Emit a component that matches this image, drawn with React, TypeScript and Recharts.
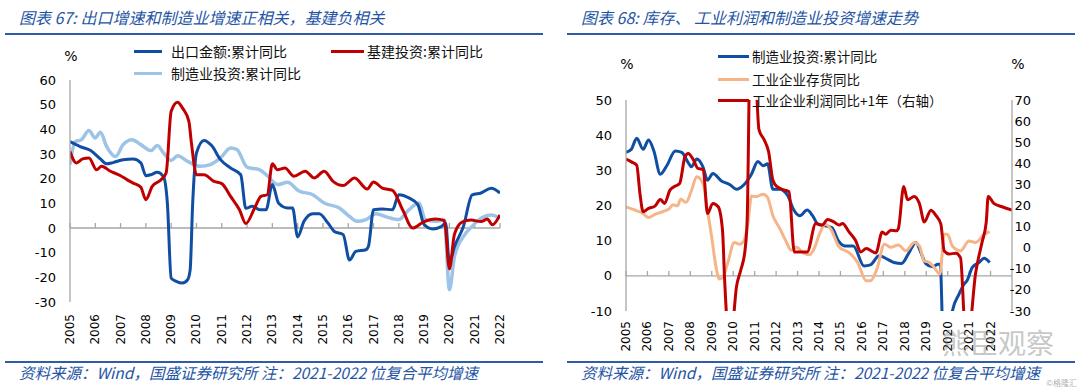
import { LineChart, Line, XAxis, YAxis, ReferenceLine } from "recharts";

// 图表67 — [year, %]
const exportPts: [number, number][] = [
  [2005.0, 35], [2005.4, 33], [2005.8, 31.5], [2006.2, 28], [2006.45, 26], [2006.7, 26.5],
  [2007.1, 27.7], [2007.5, 28], [2007.8, 26.4], [2008.0, 21.2], [2008.2, 21.6], [2008.45, 22.6],
  [2008.7, 20.7], [2008.85, 10], [2009.0, -20.3], [2009.2, -21.6], [2009.45, -22.3], [2009.65, -21],
  [2009.75, -17], [2009.85, 10], [2010.0, 30.4], [2010.3, 35.5], [2010.6, 33.4], [2010.95, 27.7],
  [2011.35, 24.3], [2011.75, 21.6], [2011.95, 8], [2012.2, 8.8], [2012.5, 7.4], [2012.75, 7.4],
  [2013.0, 17.6], [2013.25, 10], [2013.6, 8.1], [2013.8, 8.1], [2014.0, -3.6], [2014.25, 2.7],
  [2014.6, 5.8], [2014.85, 5.8], [2015.2, 2], [2015.45, -1.4], [2015.8, -2.7], [2016.05, -13],
  [2016.3, -9.5], [2016.7, -8.8], [2016.8, -7.4], [2017.0, 7.4], [2017.35, 7.7], [2017.75, 7.4],
  [2018.0, 13.5], [2018.4, 12.2], [2018.75, 9.5], [2019.0, 1.4], [2019.35, -0.4], [2019.7, 0.7],
  [2019.85, 2], [2020.0, -14], [2020.2, -7.6], [2020.55, 0.5], [2020.9, 13.4], [2021.25, 14.2],
  [2021.65, 16.1], [2022.0, 14.2],
];

const infraPts: [number, number][] = [
  [2005.0, 31], [2005.25, 26.4], [2005.5, 28], [2005.75, 28.4], [2006.05, 23.6], [2006.25, 25],
  [2006.6, 23], [2007.0, 21.2], [2007.25, 19.6], [2007.5, 18.2], [2007.8, 16.5], [2008.0, 11.5],
  [2008.25, 16.9], [2008.6, 19.6], [2008.8, 22.3], [2009.0, 47.3], [2009.25, 51], [2009.45, 48.6],
  [2009.7, 43.2], [2009.8, 34.5], [2010.0, 21.6], [2010.3, 21.6], [2010.7, 18.9], [2011.0, 18],
  [2011.35, 12.8], [2011.7, 7.4], [2011.95, 1.8], [2012.3, 8.1], [2012.55, 12.8], [2012.8, 13.5],
  [2013.0, 26], [2013.2, 23.6], [2013.5, 24.3], [2013.85, 21], [2014.3, 23], [2014.65, 20.3],
  [2015.05, 23], [2015.4, 18.9], [2015.8, 17.2], [2016.25, 20.3], [2016.75, 15.8], [2017.0, 18.6],
  [2017.35, 16.2], [2017.75, 15.3], [2018.15, 7.4], [2018.55, 0], [2018.95, 2.3], [2019.45, 3.6],
  [2019.8, 3], [2020.0, -16.6], [2020.2, -2.5], [2020.5, 2.4], [2020.85, 3.2], [2021.25, 2.6],
  [2021.5, 3.6], [2021.7, 1.3], [2022.0, 5.3],
];

const mfgPts: [number, number][] = [
  [2005.0, 25.7], [2005.2, 35], [2005.45, 35.8], [2005.75, 39.5], [2006.0, 36.5], [2006.2, 38.8],
  [2006.45, 33], [2006.8, 29], [2007.1, 33.8], [2007.45, 35.8], [2007.8, 33.8], [2008.2, 31.4],
  [2008.45, 33.4], [2008.7, 30.4], [2009.0, 27.4], [2009.25, 29.3], [2009.65, 27], [2010.15, 25],
  [2010.55, 25.7], [2010.95, 28.4], [2011.35, 32.4], [2011.6, 31.8], [2012.0, 24.7], [2012.5, 23.6],
  [2012.8, 21.2], [2013.2, 17.6], [2013.6, 18.5], [2014.05, 15], [2014.6, 13.5], [2015.05, 10.1],
  [2015.65, 8.1], [2016.05, 4.7], [2016.35, 2.7], [2016.7, 3.4], [2017.1, 5.8], [2017.5, 4.5],
  [2018.0, 3.4], [2018.4, 7.4], [2018.8, 10.1], [2019.05, 3.4], [2019.45, 2.7], [2019.8, 3.2],
  [2020.0, -25], [2020.2, -11.6], [2020.6, -2.8], [2020.9, 0.7], [2021.25, 4], [2021.65, 5.3],
  [2022.0, 4],
];

// 图表68
const mfgInvPts: [number, number][] = [
  [2005.0, 35.1], [2005.25, 36], [2005.5, 39.1], [2005.8, 36], [2006.05, 38.6], [2006.3, 35.5],
  [2006.6, 28.9], [2006.9, 31.3], [2007.3, 35.5], [2007.6, 35.1], [2007.9, 32.2], [2008.05, 31],
  [2008.3, 33.2], [2008.6, 30.8], [2008.8, 27.2], [2009.05, 29.1], [2009.45, 27], [2009.85, 25.9],
  [2010.15, 24.6], [2010.5, 25.9], [2010.85, 28.9], [2011.15, 32.5], [2011.4, 31.3], [2011.6, 31.9],
  [2011.85, 24.6], [2012.15, 24.6], [2012.55, 22.7], [2012.8, 19], [2013.1, 17.1], [2013.45, 18.7],
  [2013.7, 17.1], [2013.95, 14.7], [2014.3, 14.2], [2014.6, 13.7], [2014.9, 10], [2015.2, 8.5],
  [2015.6, 8.5], [2016.1, 2.8], [2016.4, 3.1], [2016.8, 5.7], [2017.2, 4.7], [2017.5, 3.8],
  [2017.85, 3.5], [2018.2, 6.6], [2018.52, 9.5], [2018.75, 6.6], [2018.98, 3.5], [2019.3, 2.6],
  [2019.55, 3.3], [2019.65, 3.3], [2019.85, -31], [2020.05, -22], [2020.22, -10], [2020.53, -5.2],
  [2020.76, -2.4], [2020.9, -1.4], [2021.15, 2.4], [2021.46, 3.8], [2021.7, 5], [2021.96, 3.8],
];

const inventoryPts: [number, number][] = [
  [2005.0, 19.6], [2005.5, 18.5], [2005.8, 17.7], [2006.05, 16.6], [2006.35, 17.5], [2006.75, 18.3],
  [2007.0, 19], [2007.2, 20.2], [2007.4, 19.9], [2007.55, 21.8], [2007.8, 20.9], [2008.05, 24.2],
  [2008.3, 28.2], [2008.6, 26.1], [2008.8, 18.5], [2009.0, 10.9], [2009.2, 2.4], [2009.35, -0.9],
  [2009.5, -0.5], [2009.75, 3.8], [2010.05, 9.5], [2010.3, 9], [2010.5, 10], [2010.7, 15.6],
  [2010.85, 22.7], [2011.05, 22.5], [2011.4, 23.2], [2011.6, 22.3], [2011.85, 17.1], [2012.15, 13.7],
  [2012.45, 10], [2012.7, 7.3], [2012.95, 8.1], [2013.25, 6.6], [2013.55, 6], [2013.8, 8.1],
  [2014.0, 11.6], [2014.3, 14.7], [2014.55, 13.3], [2014.95, 8.1], [2015.4, 6.6], [2015.8, 3.8],
  [2016.2, -1.4], [2016.4, -1.4], [2016.7, 1.9], [2017.05, 9], [2017.35, 8.1], [2017.7, 8.8],
  [2018.05, 7.1], [2018.45, 9.5], [2018.68, 8.5], [2018.9, 4.3], [2019.14, 3.8], [2019.37, 2.4],
  [2019.64, 0.5], [2019.84, 11.8], [2019.99, 11.8], [2020.22, 8.5], [2020.6, 7.1], [2020.99, 9.9],
  [2021.3, 9.5], [2021.7, 11.8], [2021.96, 12.6],
];

const profitPts: [number, number][] = [
  [2005.0, 42], [2005.25, 40.7], [2005.5, 39.1], [2005.65, 25.7], [2005.8, 17], [2006.05, 18.6],
  [2006.35, 19.7], [2006.6, 22.8], [2006.8, 21], [2007.05, 27.3], [2007.3, 29.2], [2007.5, 30.4],
  [2007.75, 43.1], [2007.9, 44.7], [2008.15, 41.5], [2008.35, 37.6], [2008.6, 37.1], [2008.8, 16.2],
  [2009.05, 21], [2009.3, 19.4], [2009.5, 8.3], [2009.6, -15.4], [2009.75, -37], [2009.95, -37],
  [2010.15, -18.6], [2010.35, -10.7], [2010.55, -1.2], [2010.65, 13], [2010.8, 100], [2010.95, 100],
  [2011.2, 56], [2011.45, 51], [2011.65, 45.5], [2011.85, 32], [2012.05, 28.9], [2012.4, 27.3],
  [2012.6, 26.5], [2012.85, -2], [2013.1, -2], [2013.45, -2], [2013.85, 11.5], [2014.15, 10.7],
  [2014.4, 13.4], [2014.7, 12.2], [2014.94, 10.7], [2015.1, 11.5], [2015.4, 7.5], [2015.7, 3.5],
  [2015.95, -2], [2016.2, -0.4], [2016.65, -2.5], [2016.95, 7.5], [2017.1, 6.4], [2017.35, 8.3],
  [2017.6, 8], [2017.7, 9], [2017.95, 29], [2018.13, 22.7], [2018.44, 24.3], [2018.68, 21],
  [2018.91, 12.2], [2019.22, 17.8], [2019.45, 15.3], [2019.68, 11.3], [2019.84, -1.6], [2020.07, -3],
  [2020.38, -2.6], [2020.6, -4.8], [2020.82, -38], [2021.0, -38], [2021.3, -12.2], [2021.6, 2.4],
  [2021.8, 12.2], [2021.89, 24.3], [2022.15, 21], [2022.54, 19.4], [2023.0, 17.8],
];

const YEARS = [2005, 2006, 2007, 2008, 2009, 2010, 2011, 2012, 2013, 2014, 2015, 2016, 2017, 2018, 2019, 2020, 2021, 2022];
const L_TICKS = [-30, -20, -10, 0, 10, 20, 30, 40, 50, 60];
const R_LEFT_TICKS = [-10, 0, 10, 20, 30, 40, 50];
const R_RIGHT_TICKS = [-30, -20, -10, 0, 10, 20, 30, 40, 50, 60, 70];

const DARK_BLUE = "#0f4ea3";
const RED = "#c00000";
const LIGHT_BLUE = "#9dc3e6";
const ORANGE = "#f6b489";
const AXIS = "#a6a6a6";
const TITLE_BLUE = "#2454a4";
const NUM_FONT = "'DejaVu Sans', Verdana, sans-serif";
const CJK_FONT = "'Noto Sans CJK SC', sans-serif";

const rows = (pts: [number, number][]) => pts.map(([x, y]) => ({ x, y }));

const YearTick = ({ x, y, payload }: any) => (
  <text x={x} y={y} transform={`rotate(-90 ${x} ${y})`} textAnchor="end" dominantBaseline="central"
    fontSize={12} fontFamily={NUM_FONT} fill="#000">
    {payload.value}
  </text>
);

const RightTick = ({ x, y, payload }: any) => (
  <text x={x + 19} y={y} textAnchor="end" dominantBaseline="central" fontSize={13} fontFamily={NUM_FONT} fill="#000">
    {payload.value}
  </text>
);

const LeftTick = ({ x, y, payload }: any) => (
  <text x={x} y={y} textAnchor="end" dominantBaseline="central" fontSize={13} fontFamily={NUM_FONT} fill="#000">
    {payload.value}
  </text>
);

function Swatch({ left, top, width, color }: { left: number; top: number; width: number; color: string }) {
  return <div style={{ position: "absolute", left, top: top - 1.5, width, height: 3, background: color }} />;
}

function Label({ left, top, size, children }: { left: number; top: number; size: number; children: string }) {
  return (
    <div style={{ position: "absolute", left, top: top - 10, lineHeight: "20px", fontSize: size, fontFamily: CJK_FONT, color: "#111", whiteSpace: "nowrap" }}>
      {children}
    </div>
  );
}

function Pct({ left, top }: { left: number; top: number }) {
  return (
    <div style={{ position: "absolute", left: left - 10, top: top - 10, width: 20, textAlign: "center", lineHeight: "20px", fontSize: 14, fontFamily: NUM_FONT, color: "#000" }}>
      %
    </div>
  );
}

const titleStyle = { position: "absolute" as const, top: 8, lineHeight: "18px", fontSize: 16, fontStyle: "italic", fontFamily: CJK_FONT, color: TITLE_BLUE, whiteSpace: "nowrap" as const };
const noteStyle = { ...titleStyle, top: 364, lineHeight: "16px", fontSize: 15.5 };
const rule = (left: number, top: number, width: number) => (
  <div style={{ position: "absolute", left, top, width, height: 2, background: "#2e5ca8" }} />
);

export default function App() {
  return (
    <div style={{ position: "relative", width: 1080, height: 390, background: "#fff", overflow: "hidden" }}>
      <style>{"body{margin:0}"}</style>

      <div style={{ ...titleStyle, left: 19 }}>图表 67:  出口增速和制造业增速正相关，基建负相关</div>
      <div style={{ ...titleStyle, left: 581 }}>图表 68:  库存、 工业利润和制造业投资增速走势</div>
      {rule(5, 33, 538)}
      {rule(567, 33, 508)}
      {rule(5, 361, 538)}
      {rule(567, 361, 508)}
      <div style={{ ...noteStyle, left: 19 }}>资料来源：Wind，国盛证券研究所 注：2021-2022 位复合平均增速</div>
      <div style={{ ...noteStyle, left: 581 }}>资料来源：Wind，国盛证券研究所 注：2021-2022 位复合平均增速</div>

      <div style={{ position: "absolute", left: 0, top: 0 }}>
        <LineChart width={540} height={390} margin={{ top: 80, right: 40, bottom: 38, left: 0 }}>
          <XAxis dataKey="x" type="number" domain={[2005, 2022]} ticks={YEARS} interval={0} allowDataOverflow
            axisLine={false} tickLine={false} tickSize={0} tickMargin={12} height={50} tick={<YearTick />} />
          <YAxis type="number" domain={[-30, 60]} ticks={L_TICKS} interval={0} allowDataOverflow width={70}
            axisLine={{ stroke: AXIS, strokeWidth: 1.3 }} tickLine={false} tickSize={0} tickMargin={14} tick={<LeftTick />} />
          <ReferenceLine y={0} stroke={AXIS} strokeWidth={1.3} />
          {YEARS.map((yr) => (
            <ReferenceLine key={yr} segment={[{ x: yr, y: 0 }, { x: yr, y: 2 }]} stroke={AXIS} strokeWidth={1.3} />
          ))}
          <Line data={rows(mfgPts)} dataKey="y" type="monotone" stroke={LIGHT_BLUE} strokeWidth={3.5} dot={false} isAnimationActive={false} />
          <Line data={rows(exportPts)} dataKey="y" type="monotone" stroke={DARK_BLUE} strokeWidth={3} dot={false} isAnimationActive={false} />
          <Line data={rows(infraPts)} dataKey="y" type="monotone" stroke={RED} strokeWidth={3} dot={false} isAnimationActive={false} />
        </LineChart>
      </div>

      <div style={{ position: "absolute", left: 540, top: 0 }}>
        <LineChart width={540} height={390} margin={{ top: 100, right: 18, bottom: 29, left: 0 }}>
          <XAxis dataKey="x" type="number" domain={[2005, 2023]} ticks={YEARS} interval={0} allowDataOverflow
            axisLine={false} tickLine={false} tickSize={0} tickMargin={10} height={50} tick={<YearTick />} />
          <YAxis yAxisId="left" type="number" domain={[-10, 50]} ticks={R_LEFT_TICKS} interval={0} allowDataOverflow width={86}
            axisLine={{ stroke: AXIS, strokeWidth: 1.3 }} tickLine={false} tickSize={0} tickMargin={14} tick={<LeftTick />} />
          <YAxis yAxisId="right" orientation="right" type="number" domain={[-30, 70]} ticks={R_RIGHT_TICKS} interval={0} allowDataOverflow width={50}
            axisLine={{ stroke: AXIS, strokeWidth: 1.3 }} tickLine={false} tickSize={0} tickMargin={0} tick={<RightTick />} />
          <ReferenceLine yAxisId="left" y={0} stroke={AXIS} strokeWidth={1.3} />
          {YEARS.map((yr) => (
            <ReferenceLine key={yr} yAxisId="left" segment={[{ x: yr, y: 0 }, { x: yr, y: 1.4 }]} stroke={AXIS} strokeWidth={1.3} />
          ))}
          <Line yAxisId="left" data={rows(mfgInvPts)} dataKey="y" type="monotone" stroke={DARK_BLUE} strokeWidth={3} dot={false} isAnimationActive={false} />
          <Line yAxisId="left" data={rows(inventoryPts)} dataKey="y" type="monotone" stroke={ORANGE} strokeWidth={3} dot={false} isAnimationActive={false} />
          <Line yAxisId="right" data={rows(profitPts)} dataKey="y" type="monotone" stroke={RED} strokeWidth={3} dot={false} isAnimationActive={false} />
        </LineChart>
      </div>

      <Pct left={71} top={56} />
      <Swatch left={134} top={51} width={28} color={DARK_BLUE} />
      <Label left={171} top={51} size={14}>出口金额:累计同比</Label>
      <Swatch left={331} top={51} width={33} color={RED} />
      <Label left={367} top={51} size={14}>基建投资:累计同比</Label>
      <Swatch left={134} top={73} width={28} color={LIGHT_BLUE} />
      <Label left={171} top={73} size={14}>制造业投资:累计同比</Label>

      <Pct left={627} top={64} />
      <Pct left={1018} top={64} />
      <Swatch left={718} top={56} width={31} color={DARK_BLUE} />
      <Label left={752} top={56} size={13.5}>制造业投资:累计同比</Label>
      <Swatch left={718} top={79} width={31} color={ORANGE} />
      <Label left={752} top={79} size={13.5}>工业企业存货同比</Label>
      <Swatch left={718} top={100} width={31} color={RED} />
      <Label left={752} top={100} size={13.5}>工业企业利润同比+1年（右轴）</Label>

      <div style={{ position: "absolute", left: 942, top: 326, fontSize: 28, lineHeight: "32px", fontFamily: CJK_FONT, color: "rgba(110,110,110,0.4)", whiteSpace: "nowrap" }}>熊臣观察</div>
      <div style={{ position: "absolute", right: 3, top: 378, fontSize: 8, lineHeight: "10px", fontFamily: CJK_FONT, color: "rgba(120,120,120,0.6)", whiteSpace: "nowrap" }}>©格隆汇</div>
    </div>
  );
}
